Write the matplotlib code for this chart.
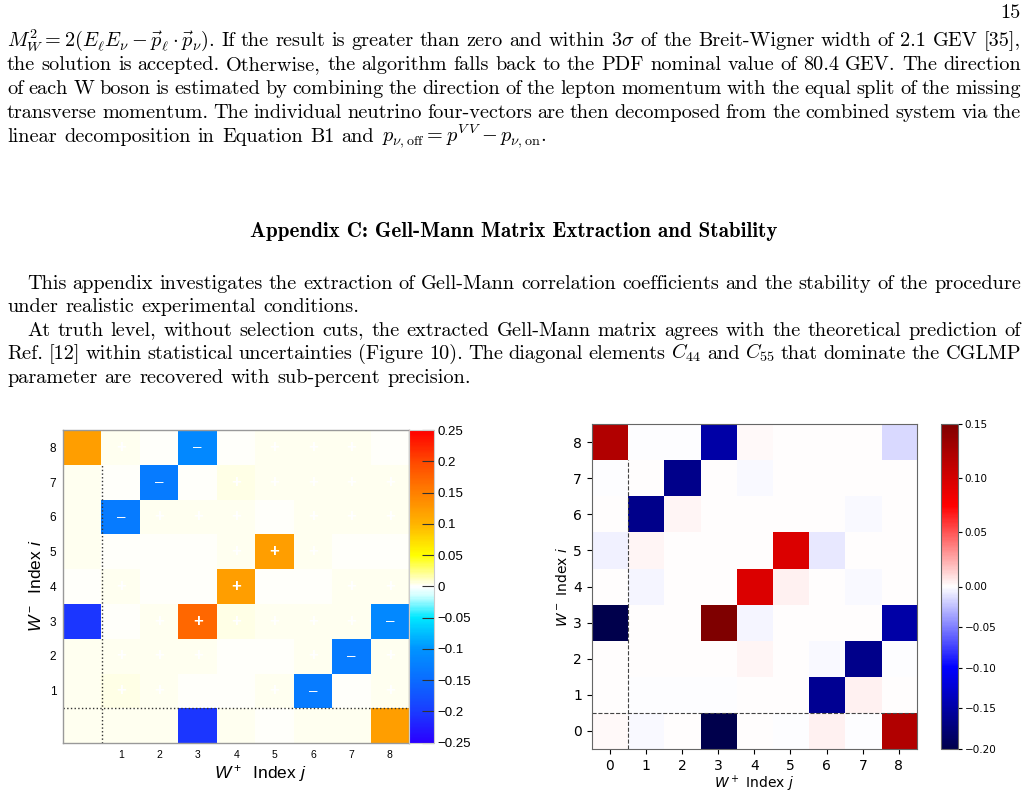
"""Appendix C page: Gell-Mann matrix heatmaps (ROOT style vs matplotlib style)."""
import re
import matplotlib
matplotlib.use("Agg")
import matplotlib.pyplot as plt
import numpy as np
from matplotlib.colors import LinearSegmentedColormap, Normalize, TwoSlopeNorm

plt.rcParams["mathtext.fontset"] = "cm"
plt.rcParams["mathtext.rm"] = "Liberation Sans"
plt.rcParams["mathtext.it"] = "Liberation Sans:italic"
plt.rcParams["axes.formatter.use_mathtext"] = False

W, H = 1029, 793

# ---- data -------------------------------------------------------------
index = list(range(9))
left_ticks = [1, 2, 3, 4, 5, 6, 7, 8]
right_ticks = [0, 1, 2, 3, 4, 5, 6, 7, 8]

# rows are W- index i = 0..8, columns are W+ index j = 0..8
left_vals = [
    [0.002, 0.002, 0.002, -0.205, 0.002, 0.0, 0.002, 0.002, 0.12],
    [0.002, 0.004, 0.002, 0.0, 0.0, 0.002, -0.13, 0.0, 0.002],
    [0.002, 0.002, 0.002, 0.002, 0.0, 0.0, 0.002, -0.13, 0.002],
    [-0.205, 0.0, 0.002, 0.17, 0.004, 0.002, 0.002, 0.002, -0.115],
    [0.0, 0.002, 0.0, 0.0, 0.12, 0.0, 0.0, 0.002, 0.002],
    [0.002, 0.0, 0.0, 0.0, 0.002, 0.12, 0.002, 0.0, 0.0],
    [0.002, -0.13, 0.002, 0.002, 0.002, 0.0, 0.002, 0.002, 0.002],
    [0.002, 0.0, -0.13, 0.0, 0.004, 0.002, 0.002, 0.002, 0.002],
    [0.12, 0.002, 0.0, -0.115, 0.0, 0.002, 0.002, 0.002, 0.0],
]
right_vals = [
    [0.002, -0.002, 0.001, -0.2, 0.0, -0.001, 0.004, -0.001, 0.12],
    [0.001, -0.001, -0.001, -0.001, 0.001, 0.001, -0.16, 0.004, 0.001],
    [0.001, 0.001, 0.001, 0.001, 0.003, 0.0, -0.002, -0.165, -0.001],
    [-0.2, 0.001, 0.001, 0.15, -0.004, 0.0, 0.001, 0.0, -0.15],
    [0.0, -0.004, 0.0, 0.001, 0.095, 0.004, 0.0, -0.003, 0.0],
    [-0.006, 0.003, 0.0, 0.0, 0.0, 0.095, -0.008, 0.0, 0.0],
    [0.001, -0.165, 0.003, 0.0, 0.0, 0.0, 0.0, -0.003, 0.0],
    [-0.001, 0.0, -0.165, 0.0, -0.003, 0.0, 0.0, 0.0, 0.0],
    [0.12, -0.001, -0.001, -0.15, 0.002, 0.0, 0.001, 0.001, -0.015],
]
left_cbar_ticks = [-0.25, -0.2, -0.15, -0.1, -0.05, 0, 0.05, 0.1, 0.15, 0.2, 0.25]
left_cbar_labels = ["\u22120.25", "\u22120.2", "\u22120.15", "\u22120.1", "\u22120.05", "0",
                    "0.05", "0.1", "0.15", "0.2", "0.25"]
right_cbar_ticks = [-0.20, -0.15, -0.10, -0.05, 0.0, 0.05, 0.10, 0.15]

# ---- page text ---------------------------------------------------------
para1 = [
    r"$M_W^2 = 2(E_\ell E_\nu - \vec{p}_\ell \cdot \vec{p}_\nu)$. If the result is greater than zero and within $3\sigma$ of the Breit-Wigner width of 2.1 GEV [35],",
    "the solution is accepted. Otherwise, the algorithm falls back to the PDF nominal value of 80.4 GEV. The direction",
    "of each W boson is estimated by combining the direction of the lepton momentum with the equal split of the missing",
    "transverse momentum. The individual neutrino four-vectors are then decomposed from the combined system via the",
    r"linear decomposition in Equation B1 and $p_{\nu,\mathrm{off}} = p^{V\,V} - p_{\nu,\mathrm{on}}$.",
]
heading = "Appendix C: Gell-Mann Matrix Extraction and Stability"
para2 = [
    "This appendix investigates the extraction of Gell-Mann correlation coefficients and the stability of the procedure",
    "under realistic experimental conditions.",
    "At truth level, without selection cuts, the extracted Gell-Mann matrix agrees with the theoretical prediction of",
    r"Ref. [12] within statistical uncertainties (Figure 10). The diagonal elements $C_{44}$ and $C_{55}$ that dominate the CGLMP",
    "parameter are recovered with sub-percent precision.",
]

fig = plt.figure(figsize=(W / 100, H / 100), dpi=100)
renderer = fig.canvas.get_renderer()
TXT = 14.6


def put_line(line, y, x0=7, x1=1021, indent=0, justify=True, size=TXT):
    words = re.findall(r"(?:\$[^$]*\$|[^\s$])+", line)
    objs = [fig.text(0, 1 - y / H, w, fontsize=size, family="cmr10", va="baseline",
                     math_fontfamily="cm") for w in words]
    widths = [o.get_window_extent(renderer).width for o in objs]
    if justify and len(words) > 1:
        gap = (x1 - x0 - indent - sum(widths)) / (len(words) - 1)
    else:
        gap = 0.36 * size * 100 / 72
    x = x0 + indent
    for o, wd in zip(objs, widths):
        o.set_x(x / W)
        x += wd + gap


fig.text(1021 / W, 1 - 18 / H, "15", fontsize=TXT, family="cmr10", ha="right", va="baseline")
for k, (line, y) in enumerate(zip(para1, [46, 70, 94, 118, 142])):
    put_line(line, y, justify=k < 4)
fig.text(514 / W, 1 - 237 / H, heading, fontsize=15.2, family="cmb10", ha="center", va="baseline")
ys2 = [289, 312, 336, 359, 383]
indents = [20, 0, 20, 0, 0]
for k, (line, y) in enumerate(zip(para2, ys2)):
    put_line(line, y, indent=indents[k], justify=k in (0, 2, 3))

# ---- left heatmap (ROOT style) ----------------------------------------
root_cmap = LinearSegmentedColormap.from_list("rootish", [
    (0.00, "#2a00ff"), (0.10, "#1a3cff"), (0.20, "#0a6cff"), (0.30, "#0094ff"),
    (0.40, "#00e8ff"), (0.47, "#d0ffff"), (0.50, "#ffffff"), (0.60, "#ffff00"),
    (0.70, "#ffb400"), (0.80, "#ff8000"), (0.90, "#ff4800"), (1.00, "#ff0000")])

axl = fig.add_axes([63.3 / W, 1 - 742.7 / H, 345.7 / W, 312.7 / H])
lv = np.array(left_vals)
axl.imshow(lv, cmap=root_cmap, norm=Normalize(-0.25, 0.25), origin="lower",
           aspect="auto", extent=(-0.5, 8.5, -0.5, 8.5), interpolation="nearest")
for i in index[1:]:
    for j in index[1:]:
        v = lv[i, j]
        if v > 0.001:
            axl.text(j, i, "+", color="white", ha="center", va="center",
                     fontsize=12, fontweight="bold", family="Liberation Sans")
        elif v < -0.001:
            axl.text(j, i, "\u2013", color="white", ha="center", va="center",
                     fontsize=11, family="Liberation Sans")
axl.plot([0.5, 0.5], [-0.5, 7.5], color="#333333", ls=":", lw=1.0)
axl.plot([-0.5, 8.5], [0.5, 0.5], color="#333333", ls=":", lw=1.0)
axl.set_xlim(-0.5, 8.5)
axl.set_ylim(-0.5, 8.5)
axl.set_xticks(left_ticks)
axl.set_yticks(left_ticks)
axl.tick_params(length=0, pad=5)
axl.tick_params(axis="x", labelsize=7.5)
axl.tick_params(axis="y", labelsize=8.5)
for lab in axl.get_xticklabels() + axl.get_yticklabels():
    lab.set_family("Liberation Sans")
for s in axl.spines.values():
    s.set_color("#999999")
    s.set_linewidth(1.0)
fig.text(260 / W, 1 - 773 / H, r"$W^+$  Index $j$", fontsize=12.5, family="Liberation Sans",
         ha="center", va="center", math_fontfamily="custom")
fig.text(36 / W, 1 - 586 / H, r"$W^-$  Index $i$", fontsize=12.5, family="Liberation Sans",
         ha="center", va="center", rotation=90, math_fontfamily="custom")

caxl = fig.add_axes([409 / W, 1 - 742.7 / H, 25.3 / W, 312.7 / H])
sm = plt.cm.ScalarMappable(norm=Normalize(-0.25, 0.25), cmap=root_cmap)
cbl = fig.colorbar(sm, cax=caxl)
cbl.set_ticks(left_cbar_ticks)
cbl.set_ticklabels(left_cbar_labels)
caxl.tick_params(direction="in", length=9, width=0.8, color="#333333", labelsize=9.5, pad=2)
for lab in caxl.get_yticklabels():
    lab.set_family("Liberation Sans")
cbl.outline.set_edgecolor("#cccccc")

# ---- right heatmap (matplotlib seismic) -------------------------------
norm_r = TwoSlopeNorm(vmin=-0.2, vcenter=0.0, vmax=0.15)
axr = fig.add_axes([591.7 / W, 1 - 749 / H, 325.3 / W, 325 / H])
im = axr.imshow(np.array(right_vals), cmap="seismic", norm=norm_r, origin="lower",
                aspect="auto", interpolation="nearest")
axr.plot([0.5, 0.5], [-0.5, 7.5], color="#444444", ls="--", lw=0.8)
axr.plot([-0.5, 8.5], [0.5, 0.5], color="#444444", ls="--", lw=0.8)
axr.set_xlim(-0.5, 8.5)
axr.set_ylim(-0.5, 8.5)
axr.set_xticks(right_ticks)
axr.set_yticks(right_ticks)
axr.tick_params(labelsize=10)
for s in axr.spines.values():
    s.set_color("#666666")
axr.set_xlabel(r"$W^+$ Index $j$", fontsize=10, labelpad=1, math_fontfamily="dejavusans")
axr.set_ylabel(r"$W^-$ Index $i$", fontsize=10, labelpad=2, math_fontfamily="dejavusans")

caxr = fig.add_axes([941 / W, 1 - 749 / H, 16.7 / W, 325 / H])
cbr = fig.colorbar(im, cax=caxr)
cbr.set_ticks(right_cbar_ticks)
cbr.ax.yaxis.set_major_formatter(matplotlib.ticker.FuncFormatter(
    lambda v, p: f"{v:.2f}".replace("-", "\u2212")))
caxr.tick_params(labelsize=7.5, length=3, pad=2)
cbr.outline.set_edgecolor("#666666")

fig.savefig("out.png", dpi=100)
